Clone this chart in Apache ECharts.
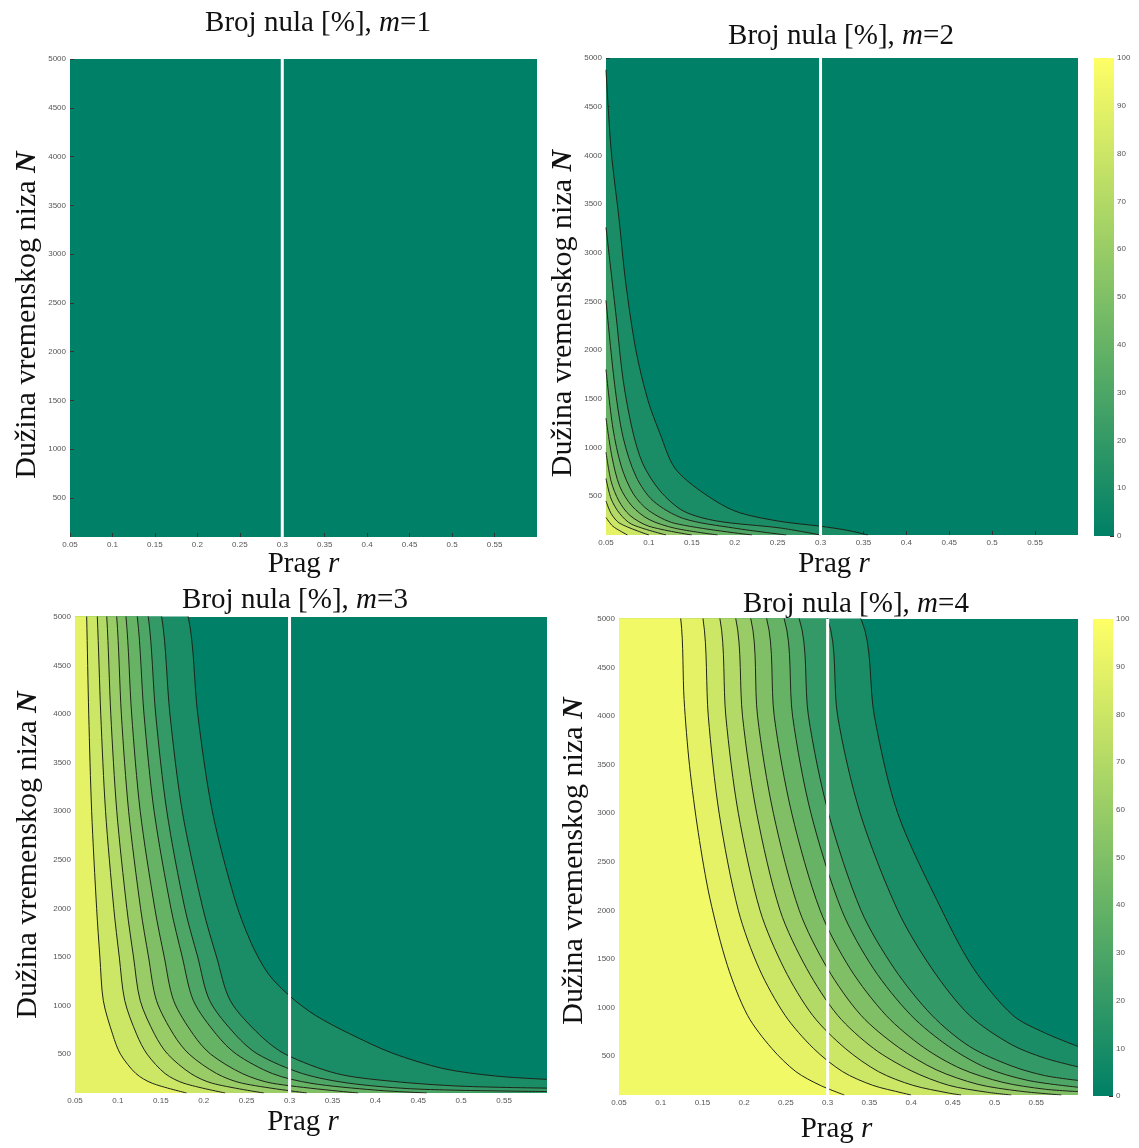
<!DOCTYPE html>
<html>
<head>
<meta charset="utf-8">
<title>Broj nula</title>
<script src="https://cdn.jsdelivr.net/npm/echarts@6/dist/echarts.min.js"></script>
<style>
  html, body { margin: 0; padding: 0; background: #fff; }
  #chart { width: 1139px; height: 1148px; }
</style>
</head>
<body>
<div id="chart"></div>
<script>
// axes
const xTicks = [0.05, 0.1, 0.15, 0.2, 0.25, 0.3, 0.35, 0.4, 0.45, 0.5, 0.55];
const yTicks = [500, 1000, 1500, 2000, 2500, 3000, 3500, 4000, 4500, 5000];
const cbTicks = [0, 10, 20, 30, 40, 50, 60, 70, 80, 90, 100];
const rMin = 0.05, rMax = 0.6;
const nMin = 100, nMax = 5000;
const threshold = 0.3;

// m=2 contour lines [r, N]
const m2Levels = [10, 20, 30, 40, 50, 60, 70, 80, 90];
const m2L10 = [[0.05,4880],[0.056,4050],[0.065,3360],[0.073,2690],[0.085,1990],[0.099,1480],[0.113,1140],[0.13,790],[0.16,553],[0.2,347],[0.25,244],[0.3,190],[0.33,150],[0.355,100]];
const m2L20 = [[0.05,3260],[0.062,2330],[0.07,1690],[0.081,1170],[0.093,830],[0.113,553],[0.14,347],[0.179,244],[0.253,172],[0.3,100]];
const m2L30 = [[0.05,2510],[0.06,1650],[0.07,1100],[0.085,700],[0.105,450],[0.14,270],[0.2,170],[0.26,100]];
const m2L40 = [[0.05,1800],[0.058,1200],[0.068,800],[0.082,520],[0.1,350],[0.13,220],[0.22,100]];
const m2L50 = [[0.05,1300],[0.057,900],[0.066,600],[0.08,400],[0.1,260],[0.13,170],[0.18,100]];
const m2L60 = [[0.05,950],[0.056,650],[0.065,450],[0.078,300],[0.1,190],[0.15,100]];
const m2L70 = [[0.05,680],[0.056,470],[0.066,320],[0.08,210],[0.12,100]];
const m2L80 = [[0.05,450],[0.056,320],[0.066,220],[0.1,100]];
const m2L90 = [[0.05,280],[0.058,190],[0.075,100]];

// m=3
const m3Levels = [10, 20, 30, 40, 50, 60, 70, 80, 90];
const m3L10 = [[0.182,5000],[0.193,4000],[0.21,3000],[0.236,2100],[0.255,1650],[0.275,1330],[0.3,1100],[0.33,900],[0.37,710],[0.42,510],[0.48,350],[0.54,275],[0.6,240]];
const m3L20 = [[0.151,5000],[0.1606,4000],[0.175,3000],[0.199,2000],[0.215,1500],[0.231,1050],[0.265,700],[0.295,500],[0.355,300],[0.42,220],[0.5,170],[0.6,150]];
const m3L30 = [[0.1354,5000],[0.144,4000],[0.157,3000],[0.178,2000],[0.193,1500],[0.207,1050],[0.237,700],[0.263,500],[0.315,300],[0.37,200],[0.45,140],[0.6,115]];
const m3L40 = [[0.1226,5000],[0.1304,4000],[0.1422,3000],[0.1618,2000],[0.175,1500],[0.188,1050],[0.215,700],[0.238,500],[0.28,300],[0.325,200],[0.4,130],[0.46,100]];
const m3L50 = [[0.1094,5000],[0.116,4000],[0.126,3000],[0.143,2000],[0.154,1500],[0.165,1050],[0.188,700],[0.208,500],[0.245,300],[0.28,200],[0.38,100]];
const m3L60 = [[0.0986,5000],[0.104,4000],[0.1125,3000],[0.1264,2000],[0.1357,1500],[0.145,1050],[0.165,700],[0.183,500],[0.215,300],[0.245,200],[0.32,100]];
const m3L70 = [[0.087,5000],[0.0917,4000],[0.0987,3000],[0.1104,2000],[0.1182,1500],[0.126,1050],[0.143,700],[0.158,500],[0.185,300],[0.21,200],[0.27,100]];
const m3L80 = [[0.076,5000],[0.08,4000],[0.0856,3000],[0.0952,2000],[0.1016,1500],[0.108,1050],[0.122,700],[0.134,500],[0.155,300],[0.177,200],[0.225,100]];
const m3L90 = [[0.0636,5000],[0.066,4000],[0.0694,3000],[0.0752,2000],[0.079,1500],[0.083,1050],[0.094,700],[0.103,500],[0.121,300],[0.14,200],[0.18,100]];

// m=4
const m4Levels = [10, 20, 30, 40, 50, 60, 70, 80, 90, 95];
const m4L10 = [[0.34,5000],[0.356,4000],[0.384,3000],[0.437,2000],[0.475,1400],[0.522,920],[0.56,740],[0.6,600]];
const m4L20 = [[0.3,5000],[0.312,4000],[0.339,3000],[0.384,2000],[0.425,1400],[0.47,920],[0.52,620],[0.56,480],[0.6,390]];
const m4L30 = [[0.266,5000],[0.277,4000],[0.301,3000],[0.34,2000],[0.38,1400],[0.425,920],[0.47,600],[0.52,400],[0.56,300],[0.6,250]];
const m4L40 = [[0.248,5000],[0.258,4000],[0.28,3000],[0.317,2000],[0.355,1400],[0.4,920],[0.445,600],[0.49,380],[0.54,250],[0.6,180]];
const m4L50 = [[0.227,5000],[0.236,4000],[0.257,3000],[0.291,2000],[0.327,1400],[0.37,920],[0.415,590],[0.46,370],[0.51,230],[0.56,160],[0.6,135]];
const m4L60 = [[0.208,5000],[0.216,4000],[0.235,3000],[0.266,2000],[0.3,1400],[0.34,920],[0.385,590],[0.43,360],[0.48,210],[0.53,140],[0.58,100]];
const m4L70 = [[0.19,5000],[0.198,4000],[0.215,3000],[0.243,2000],[0.275,1400],[0.312,920],[0.355,580],[0.4,350],[0.445,200],[0.49,130],[0.52,100]];
const m4L80 = [[0.171,5000],[0.178,4000],[0.193,3000],[0.219,2000],[0.248,1400],[0.282,920],[0.321,580],[0.361,340],[0.402,200],[0.445,120],[0.46,100]];
const m4L90 = [[0.1507,5000],[0.157,4000],[0.17,3000],[0.193,2000],[0.218,1400],[0.249,920],[0.283,580],[0.318,340],[0.354,200],[0.39,120],[0.4,100]];
const m4L95 = [[0.124,5000],[0.128,4170],[0.1345,3490],[0.145,2800],[0.159,2120],[0.18,1430],[0.204,920],[0.233,580],[0.262,340],[0.291,200],[0.32,100]];

const panels = [
  { m: 1, levels: [], lines: [] },
  { m: 2, levels: m2Levels, lines: [m2L10, m2L20, m2L30, m2L40, m2L50, m2L60, m2L70, m2L80, m2L90] },
  { m: 3, levels: m3Levels, lines: [m3L10, m3L20, m3L30, m3L40, m3L50, m3L60, m3L70, m3L80, m3L90] },
  { m: 4, levels: m4Levels, lines: [m4L10, m4L20, m4L30, m4L40, m4L50, m4L60, m4L70, m4L80, m4L90, m4L95] }
];

// pixel layout of the four plots and two colorbars
const boxes = [
  { left: 70,  top: 59,  width: 467, height: 478, titleX: 313, titleTop: 4,   xGap: 13, xShift: 0,  yGap: 28, yShift: 17 },
  { left: 606, top: 58,  width: 472, height: 477, titleX: 836, titleTop: 17,  xGap: 15, xShift: 8,  yGap: 28, yShift: 17 },
  { left: 75,  top: 617, width: 472, height: 476, titleX: 290, titleTop: 581, xGap: 15, xShift: 8,  yGap: 32, yShift: 0 },
  { left: 619, top: 619, width: 459, height: 476, titleX: 851, titleTop: 585, xGap: 20, xShift: 12, yGap: 30, yShift: 4 }
];
const cbBoxes = [
  { left: 1094, top: 58,  width: 20, height: 478 },
  { left: 1093, top: 619, width: 20, height: 477 }
];

// MATLAB "summer" colormap
function summer(v) {
  const t = v / 100;
  return 'rgb(' + Math.round(255 * t) + ',' + Math.round(127.5 + 127.5 * t) + ',102)';
}

const serif = '"Liberation Serif", "Times New Roman", serif';
const sans = '"Liberation Sans", Arial, sans-serif';
const tickLabel = { fontFamily: sans, fontSize: 8, color: '#555', margin: 4 };
const plain = { fontFamily: serif, fontSize: 29, color: '#111', fontWeight: 'normal' };
const ital = Object.assign({}, plain, { fontStyle: 'italic' });
const plainY = Object.assign({}, plain, { fontSize: 30 });
const boldItalY = Object.assign({}, plainY, { fontStyle: 'italic', fontWeight: 'bold' });

const option = {
  backgroundColor: '#fff',
  animation: false,
  title: [],
  grid: [],
  xAxis: [],
  yAxis: [],
  series: []
};

panels.forEach(function (p, i) {
  const b = boxes[i];
  option.title.push({
    text: '{t|Broj nula [%], }{i|m}{t|=' + p.m + '}',
    left: b.titleX,
    top: b.titleTop,
    textAlign: 'center',
    textStyle: { fontWeight: 'normal', rich: { t: plain, i: ital } }
  });
  option.grid.push({
    left: b.left, top: b.top, width: b.width, height: b.height,
    show: true, backgroundColor: summer(0), borderWidth: 0
  });
  option.xAxis.push({
    type: 'value', gridIndex: i, min: rMin, max: rMax,
    name: '{t|Prag }{i|r}', nameLocation: 'middle', nameGap: b.xGap,
    nameTextStyle: { verticalAlign: 'top', padding: [0, 2 * b.xShift, 0, 0], rich: { t: plain, i: ital } },
    axisLine: { show: false },
    axisTick: { inside: true, length: 4, lineStyle: { color: '#333' }, customValues: xTicks },
    axisLabel: Object.assign({ customValues: xTicks }, tickLabel),
    splitLine: { show: false }
  });
  option.yAxis.push({
    type: 'value', gridIndex: i, min: nMin, max: nMax,
    name: '{t|Dužina vremenskog niza }{n|N}', nameLocation: 'middle', nameGap: b.yGap, nameRotate: 90,
    nameTextStyle: { padding: [0, 2 * b.yShift, 0, 0], rich: { t: plainY, n: boldItalY } },
    axisLine: { show: false },
    axisTick: { inside: true, length: 4, lineStyle: { color: '#333' }, customValues: yTicks },
    axisLabel: Object.assign({ customValues: yTicks, formatter: function (v) { return String(v); } }, tickLabel),
    splitLine: { show: false }
  });

  // filled contours, lowest level first so higher bands paint over
  p.lines.forEach(function (pts, k) {
    let data = pts.slice();
    if (data[0][1] >= nMax) {
      // carry the band over the top edge so the area left of the curve is filled
      data.unshift([rMin, nMax * 2]);
    }
    option.series.push({
      type: 'line', xAxisIndex: i, yAxisIndex: i,
      data: data, smooth: 0.3, symbol: 'none', silent: true, clip: true,
      lineStyle: { color: '#1e2418', width: 1 },
      areaStyle: { color: summer(p.levels[k]), opacity: 1, origin: 'start' },
      z: 2
    });
  });

  // white line at the chosen threshold r
  option.series.push({
    type: 'line', xAxisIndex: i, yAxisIndex: i,
    data: [[threshold, nMin], [threshold, nMax]],
    symbol: 'none', silent: true,
    lineStyle: { color: '#ffffff', width: 3 },
    z: 5
  });
});

// colorbars beside m=2 and m=4
cbBoxes.forEach(function (c) {
  const gi = option.grid.length;
  option.grid.push({ left: c.left, top: c.top, width: c.width, height: c.height });
  option.xAxis.push({
    type: 'category', gridIndex: gi, data: ['cb'], show: false
  });
  option.yAxis.push({
    type: 'value', gridIndex: gi, min: cbTicks[0], max: cbTicks[cbTicks.length - 1], interval: 10,
    position: 'right',
    axisLine: { show: false },
    axisTick: { show: true, inside: true, length: 4, lineStyle: { color: '#333' } },
    axisLabel: Object.assign({}, tickLabel, { margin: 3 }),
    splitLine: { show: false }
  });
  option.series.push({
    type: 'bar', xAxisIndex: gi, yAxisIndex: gi,
    data: [cbTicks[cbTicks.length - 1]], barWidth: '100%', silent: true,
    itemStyle: {
      color: {
        type: 'linear', x: 0, y: 0, x2: 0, y2: 1,
        colorStops: [
          { offset: 0, color: summer(100) },
          { offset: 1, color: summer(0) }
        ]
      }
    }
  });
});

const chart = echarts.init(document.getElementById('chart'));
chart.setOption(option);
</script>
</body>
</html>
